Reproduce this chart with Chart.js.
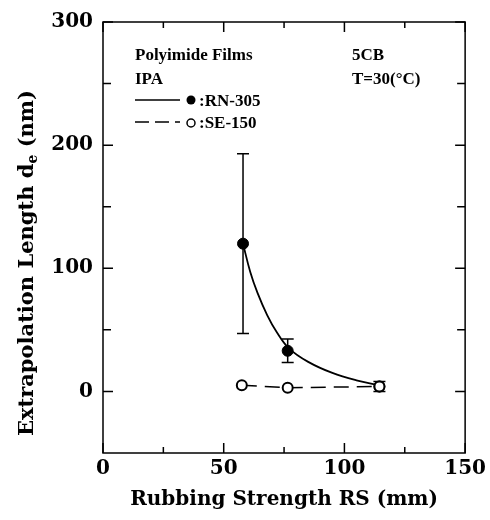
<!DOCTYPE html>
<html>
<head>
<meta charset="utf-8">
<script src="https://cdn.jsdelivr.net/npm/chart.js@4.4.1/dist/chart.umd.min.js"></script>
<style>
  body { margin: 0; background: #fff; }
</style>
</head>
<body>
<canvas id="chart" width="490" height="520"></canvas>
<script>
// --- Data ---
const rsRN = [58, 76.5, 114.5];
const deRN = [120, 33, 4];
const errRN = [73, 9.5, 4];

const rsSE = [57.5, 76.5, 114.5];
const deSE = [5, 3, 4];

// fitted curve through RN-305
const fitX = [58, 61, 64, 68, 72, 77, 85, 95, 105, 114.5];
const fitY = [120, 97, 80, 62, 48, 35, 24, 15, 9, 5];

const xTicks = [0, 50, 100, 150];
const xMinor = [25, 75, 125];
const yTicks = [0, 100, 200, 300];
const yMinor = [50, 150, 250];

const serif = "'DejaVu Serif', serif";
const textSerif = "'Liberation Serif', serif";

const toPts = (xs, ys) => xs.map((x, i) => ({ x: x, y: ys[i] }));

// --- Frame, inward ticks, error bars, annotations ---
const figurePlugin = {
  id: "figure",
  beforeDatasetsDraw(chart) {
    const ctx = chart.ctx;
    const xs = chart.scales.x;
    const ys = chart.scales.y;
    ctx.save();
    ctx.strokeStyle = "#000";
    ctx.lineWidth = 1.5;
    rsRN.forEach((x, i) => {
      const px = xs.getPixelForValue(x);
      const top = ys.getPixelForValue(deRN[i] + errRN[i]);
      const bot = ys.getPixelForValue(deRN[i] - errRN[i]);
      ctx.beginPath();
      ctx.moveTo(px, top);
      ctx.lineTo(px, bot);
      ctx.moveTo(px - 6, top);
      ctx.lineTo(px + 6, top);
      ctx.moveTo(px - 6, bot);
      ctx.lineTo(px + 6, bot);
      ctx.stroke();
    });
    ctx.restore();
  },
  afterDraw(chart) {
    const ctx = chart.ctx;
    const a = chart.chartArea;
    const xs = chart.scales.x;
    const ys = chart.scales.y;
    ctx.save();
    ctx.strokeStyle = "#000";
    ctx.lineWidth = 1.5;
    ctx.strokeRect(a.left, a.top, a.right - a.left, a.bottom - a.top);

    const major = 10;
    const minor = 6;
    ctx.beginPath();
    xTicks.forEach((v) => {
      const px = xs.getPixelForValue(v);
      ctx.moveTo(px, a.bottom);
      ctx.lineTo(px, a.bottom - major);
      ctx.moveTo(px, a.top);
      ctx.lineTo(px, a.top + major);
    });
    xMinor.forEach((v) => {
      const px = xs.getPixelForValue(v);
      ctx.moveTo(px, a.bottom);
      ctx.lineTo(px, a.bottom - minor);
      ctx.moveTo(px, a.top);
      ctx.lineTo(px, a.top + minor);
    });
    yTicks.forEach((v) => {
      const py = ys.getPixelForValue(v);
      ctx.moveTo(a.left, py);
      ctx.lineTo(a.left + major, py);
      ctx.moveTo(a.right, py);
      ctx.lineTo(a.right - major, py);
    });
    yMinor.forEach((v) => {
      const py = ys.getPixelForValue(v);
      ctx.moveTo(a.left, py);
      ctx.lineTo(a.left + minor + 2, py);
      ctx.moveTo(a.right, py);
      ctx.lineTo(a.right - minor - 2, py);
    });
    ctx.stroke();

    // y axis title with subscript
    ctx.fillStyle = "#000";
    ctx.translate(28, 263);
    ctx.rotate(-Math.PI / 2);
    ctx.textBaseline = "middle";
    const big = "bold 21px " + serif;
    const small = "bold 14px " + serif;
    const p1 = "Extrapolation Length d";
    const p2 = "e";
    const p3 = " (nm)";
    ctx.font = big;
    const w1 = ctx.measureText(p1).width;
    const w3 = ctx.measureText(p3).width;
    ctx.font = small;
    const w2 = ctx.measureText(p2).width;
    const x0 = -(w1 + w2 + w3) / 2;
    ctx.font = big;
    ctx.fillText(p1, x0, 0);
    ctx.font = small;
    ctx.fillText(p2, x0 + w1, 5);
    ctx.font = big;
    ctx.fillText(p3, x0 + w1 + w2, 0);
    ctx.setTransform(1, 0, 0, 1, 0, 0);

    // annotations
    ctx.font = "bold 17px " + textSerif;
    ctx.textBaseline = "alphabetic";
    ctx.fillText("Polyimide Films", 135, 60);
    ctx.fillText("IPA", 135, 84);
    ctx.fillText("5CB", 352, 60);
    ctx.fillText("T=30(\u00B0C)", 352, 84);

    // legend
    ctx.lineWidth = 1.5;
    ctx.beginPath();
    ctx.moveTo(135, 100);
    ctx.lineTo(180, 100);
    ctx.stroke();
    ctx.beginPath();
    ctx.arc(191, 100, 4.5, 0, Math.PI * 2);
    ctx.fill();
    ctx.fillText(":RN-305", 199, 106);

    ctx.setLineDash([14, 6]);
    ctx.beginPath();
    ctx.moveTo(135, 122);
    ctx.lineTo(180, 122);
    ctx.stroke();
    ctx.setLineDash([]);
    ctx.beginPath();
    ctx.arc(191, 123, 4, 0, Math.PI * 2);
    ctx.stroke();
    ctx.fillText(":SE-150", 199, 128);
    ctx.restore();
  },
};

new Chart(document.getElementById("chart"), {
  type: "scatter",
  data: {
    datasets: [
      {
        label: "SE-150",
        data: toPts(rsSE, deSE),
        showLine: true,
        borderColor: "#000",
        borderWidth: 1.5,
        borderDash: [15, 8],
        pointRadius: 5,
        pointBorderWidth: 2,
        pointBackgroundColor: "#fff",
        pointBorderColor: "#000",
      },
      {
        label: "fit",
        data: toPts(fitX, fitY),
        showLine: true,
        borderColor: "#000",
        borderWidth: 1.8,
        pointRadius: 0,
        tension: 0.4,
      },
      {
        label: "RN-305",
        data: toPts(rsRN, deRN),
        showLine: false,
        pointRadius: 5.5,
        pointBackgroundColor: "#000",
        pointBorderColor: "#000",
      },
    ],
  },
  options: {
    responsive: false,
    animation: false,
    events: [],
    layout: { padding: { top: 20, right: 20, left: 0, bottom: 0 } },
    plugins: { legend: { display: false }, tooltip: { enabled: false } },
    scales: {
      x: {
        type: "linear",
        min: 0,
        max: 150,
        afterBuildTicks: (s) => { s.ticks = xTicks.map((v) => ({ value: v })); },
        afterFit: (s) => { s.height = 67; },
        grid: { display: false, drawTicks: false },
        border: { display: false },
        ticks: { color: "#000", padding: 4, maxRotation: 0, font: { family: serif, size: 20, weight: "bold" } },
        title: {
          display: true,
          text: "Rubbing Strength RS (mm)",
          color: "#000",
          padding: { top: 0, bottom: 8 },
          font: { family: serif, size: 20, weight: "bold" },
        },
      },
      y: {
        type: "linear",
        min: -50,
        max: 300,
        afterBuildTicks: (s) => { s.ticks = yTicks.map((v) => ({ value: v })); },
        afterFit: (s) => { s.width = 103; },
        grid: { display: false, drawTicks: false },
        border: { display: false },
        ticks: { color: "#000", padding: 10, font: { family: serif, size: 20, weight: "bold" } },
      },
    },
  },
  plugins: [figurePlugin],
});
</script>
</body>
</html>
